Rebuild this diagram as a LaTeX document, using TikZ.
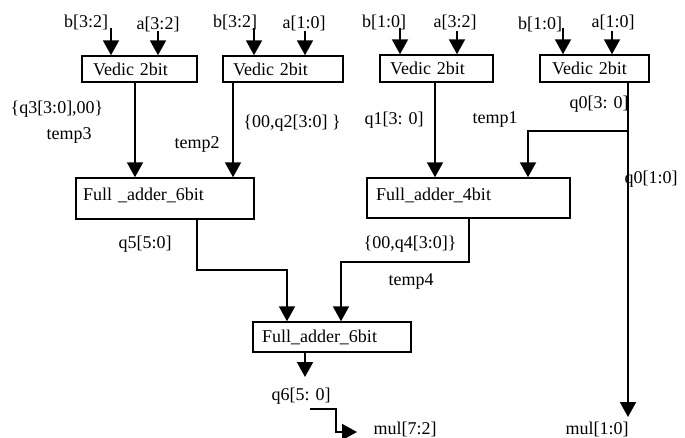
\documentclass[tikz,border=0pt]{standalone}
\usepackage{fontspec}
\setmainfont{Liberation Serif}
\usetikzlibrary{arrows.meta}
\begin{document}
\begin{tikzpicture}[x=1pt,y=-1pt,
  txt/.style={font=\fontsize{18}{20}\selectfont},
  box/.style={draw, line width=1.5pt, inner ysep=0pt, align=left, txt},
  lbl/.style={inner sep=0pt, anchor=base, txt},
  wire/.style={line width=2pt},
  arr/.style={wire, -{Triangle[width=16pt,length=15pt]}}]
\useasboundingbox (0,0) rectangle (685,437);

% boxes
\node[box, minimum width=115pt, minimum height=26pt, inner xsep=11pt, text width=93pt] (v1) at (139.5,69) {Vedic 2bit};
\node[box, minimum width=120pt, minimum height=26pt, inner xsep=10pt, text width=100pt] (v2) at (283,69) {Vedic 2bit};
\node[box, minimum width=113pt, minimum height=27pt, inner xsep=10pt, text width=93pt] (v3) at (436.5,68.5) {Vedic 2bit};
\node[box, minimum width=109pt, minimum height=27pt, inner xsep=12pt, text width=85pt] (v4) at (594.5,68.5) {Vedic 2bit};
\node[box, minimum width=178pt, minimum height=41pt, inner xsep=7pt, text width=164pt, text depth=9pt] (fa1) at (165,198.5) {Full \_adder\_6bit};
\node[box, minimum width=203pt, minimum height=40pt, inner xsep=9pt, text width=185pt, text depth=8pt] (fa2) at (468.5,198) {Full\_adder\_4bit};
\node[box, minimum width=158pt, minimum height=30pt, inner xsep=9pt, text width=140pt] (fa3) at (332,337) {Full\_adder\_6bit};

% input labels
\node[lbl] (lb1) at (86,27) {b[3:2]};
\node[lbl] (la1) at (158,29) {a[3:2]};
\node[lbl] (lb2) at (235,27) {b[3:2]};
\node[lbl] (la2) at (304,28) {a[1:0]};
\node[lbl] (lb3) at (384,27) {b[1:0]};
\node[lbl] (la3) at (455,27) {a[3:2]};
\node[lbl] (lb4) at (540,29) {b[1:0]};
\node[lbl] (la4) at (613,27) {a[1:0]};

% input arrows
\coordinate (ib1) at (111,28);
\coordinate (ia1) at (158,31);
\coordinate (ib2) at (254,28);
\coordinate (ia2) at (305,31);
\coordinate (ib3) at (400,28);
\coordinate (ia3) at (457,31);
\coordinate (ib4) at (563,28);
\coordinate (ia4) at (612,31);
\draw[arr] (ib1) -- (v1.north -| ib1);
\draw[arr] (ia1) -- (v1.north -| ia1);
\draw[arr] (ib2) -- (v2.north -| ib2);
\draw[arr] (ia2) -- (v2.north -| ia2);
\draw[arr] (ib3) -- (v3.north -| ib3);
\draw[arr] (ia3) -- (v3.north -| ia3);
\draw[arr] (ib4) -- (v4.north -| ib4);
\draw[arr] (ia4) -- (v4.north -| ia4);

% middle labels
\node[lbl] (l1) at (57,113) {\{q3[3:0],00\}};
\node[lbl] (l2) at (69,139) {temp3};
\node[lbl] (l3) at (197,148) {temp2};
\node[lbl] (l4) at (292,127) {\{00,q2[3:0] \}};
\node[lbl] (l5) at (394,124) {q1[3: 0]};
\node[lbl] (l6) at (495,123) {temp1};
\node[lbl] (l7) at (599,108) {q0[3: 0]};
\node[lbl] (l8) at (651,183) {q0[1:0]};
\node[lbl] (l9) at (145,248) {q5[5:0]};
\node[lbl] (l10) at (410,248) {\{00,q4[3:0]\}};
\node[lbl] (l11) at (411,285) {temp4};
\node[lbl] (l12) at (301,400) {q6[5: 0]};
\node[lbl] (l13) at (405,434) {mul[7:2]};
\node[lbl] (l14) at (597,434) {mul[1:0]};

% vedic outputs
\coordinate (o1) at (135,0);
\coordinate (o2) at (233,0);
\coordinate (o3) at (435,0);
\coordinate (o4) at (628,0);
\coordinate (i4) at (528,0);
\coordinate (j1) at (628,131);
\coordinate (q0end) at (628,417);
\draw[arr] (v1.south -| o1) -- (fa1.north -| o1);
\draw[arr] (v2.south -| o2) -- (fa1.north -| o2);
\draw[arr] (v3.south -| o3) -- (fa2.north -| o3);
\draw[arr] (v4.south -| o4) -- (q0end);
\draw[arr] (j1) -| (fa2.north -| i4);

% adder outputs
\coordinate (xa) at (197,270);
\coordinate (xb) at (287,0);
\coordinate (ya) at (469,262);
\coordinate (yb) at (341,0);
\draw[arr] (fa1.south -| xa) -- (xa) -| (fa3.north -| xb);
\draw[arr] (fa2.south -| ya) -- (ya) -| (fa3.north -| yb);

\coordinate (o6) at (305,377);
\draw[arr] (fa3.south -| o6) -- (o6);

\coordinate (m1) at (310,409);
\coordinate (mc) at (336,432);
\coordinate (m2) at (357,432);
\draw[arr] (m1) -| (mc) -- (m2);
\end{tikzpicture}
\end{document}
